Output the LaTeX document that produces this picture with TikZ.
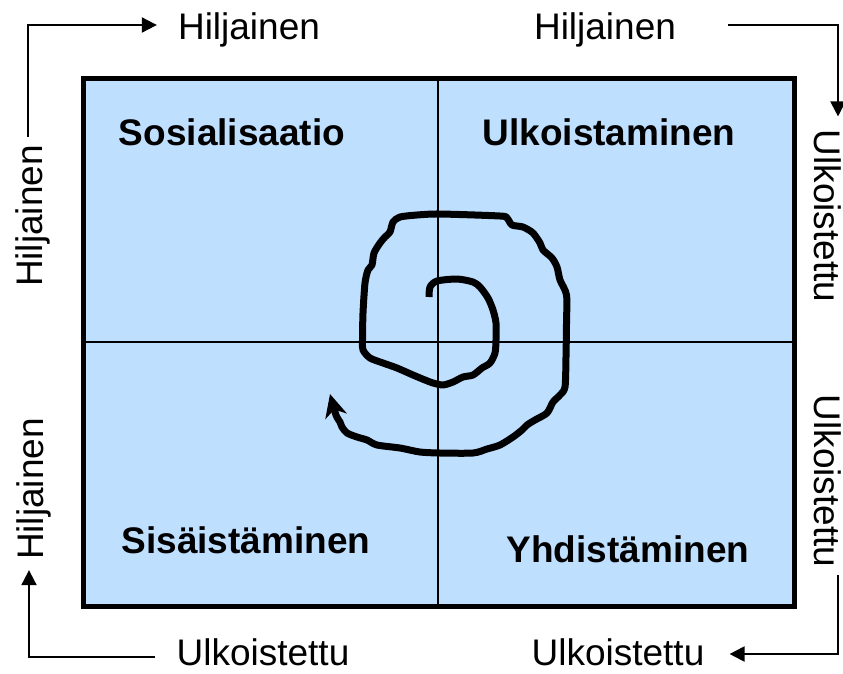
\documentclass[tikz,border=0pt]{standalone}
\usepackage{fontspec}
\setmainfont{Liberation Sans}
\usetikzlibrary{arrows.meta}
\definecolor{PaleBlue}{HTML}{BFDFFF}
\tikzset{
  axislabel/.style={
    inner sep=0pt, text height=29pt, text depth=0pt,
    font=\fontsize{37}{40}\selectfont
  },
  quadlabel/.style={
    anchor=base, inner sep=0pt,
    font=\fontsize{37}{40}\selectfont\bfseries
  },
  flow/.style={-{Triangle[length=15pt,width=15pt]}, line width=2pt},
  frame/.style={draw=black, line width=5pt, fill=PaleBlue},
  divider/.style={line width=1.5pt},
  spiral/.style={-{Stealth[length=23pt,width=22pt,inset=7pt]},
    line width=7pt, line join=round}
}

\begin{document}
\begin{tikzpicture}[x=1pt,y=-1pt]
    \useasboundingbox (0,0) rectangle (843,673);

    % matrix
    \filldraw[frame] (83,78) rectangle (794,606);
    \draw[divider] (438,78) -- (438,606);
    \draw[divider] (83,342) -- (794,342);

    \node[quadlabel] (soc) at (232,145) {Sosialisaatio};
    \node[quadlabel] (ext) at (609,145) {Ulkoistaminen};
    \node[quadlabel] (int) at (246,553) {Sisäistäminen};
    \node[quadlabel] (com) at (628,562) {Yhdistäminen};

    % outer labels
    \node[axislabel] (ht1) at (249,25) {Hiljainen};
    \node[axislabel] (ht2) at (605,25) {Hiljainen};
    \node[axislabel,rotate=90] (hl1) at (28,216) {Hiljainen};
    \node[axislabel,rotate=90] (hl2) at (29,489) {Hiljainen};
    \node[axislabel,rotate=-90] (ur1) at (829,216) {Ulkoistettu};
    \node[axislabel,rotate=-90] (ur2) at (829,481) {Ulkoistettu};
    \node[axislabel] (ub1) at (263,651) {Ulkoistettu};
    \node[axislabel] (ub2) at (618,651) {Ulkoistettu};

    \draw[flow,shorten <=8pt,shorten >=21pt] (hl1.east) |- (ht1.west);
    \draw[flow,shorten <=52pt,shorten >=13pt]
      (ht2.east) -| ([xshift=9pt]ur1.west);
    \draw[flow,shorten <=7pt,shorten >=25pt]
      ([xshift=9pt]ur2.east) |- ([yshift=-3pt]ub2.east);
    \draw[flow,shorten <=21pt,shorten >=10pt]
      ([yshift=-6pt]ub1.west) -| (hl2.west);

    % knowledge spiral
    \draw[spiral] plot[smooth,tension=0.45] coordinates {
      (429,297) (430,287) (437,281) (457,279) (473,282) (480,287)
      (488,298) (493,310) (496,323) (496,340) (495,353) (490,363)
      (482,368) (473,375) (463,377) (453,382) (443,385) (433,383)
      (425,380) (413,375) (397,368) (383,363) (370,358) (363,350)
      (362.5,340) (363,313) (365,283) (368,270) (372,265) (374,253)
      (380,243) (385,237) (390,232) (393,222) (400,217) (417,215)
      (440,214) (500,216) (507,218) (512,225) (523,227) (533,233)
      (540,243) (543,250) (552,258) (557,267) (560,280) (566.5,295)
      (566.5,323) (566,357) (565,387) (560,395) (553,402) (547,413)
      (535,420) (527,425) (522,430) (513,437) (500,445) (487,449)
      (473,453) (440,453) (420,452) (400,448) (377,445) (367,440)
      (357,437) (347,433) (342,427) (340,422) (336,415) (330,394)
    };
\end{tikzpicture}
\end{document}
